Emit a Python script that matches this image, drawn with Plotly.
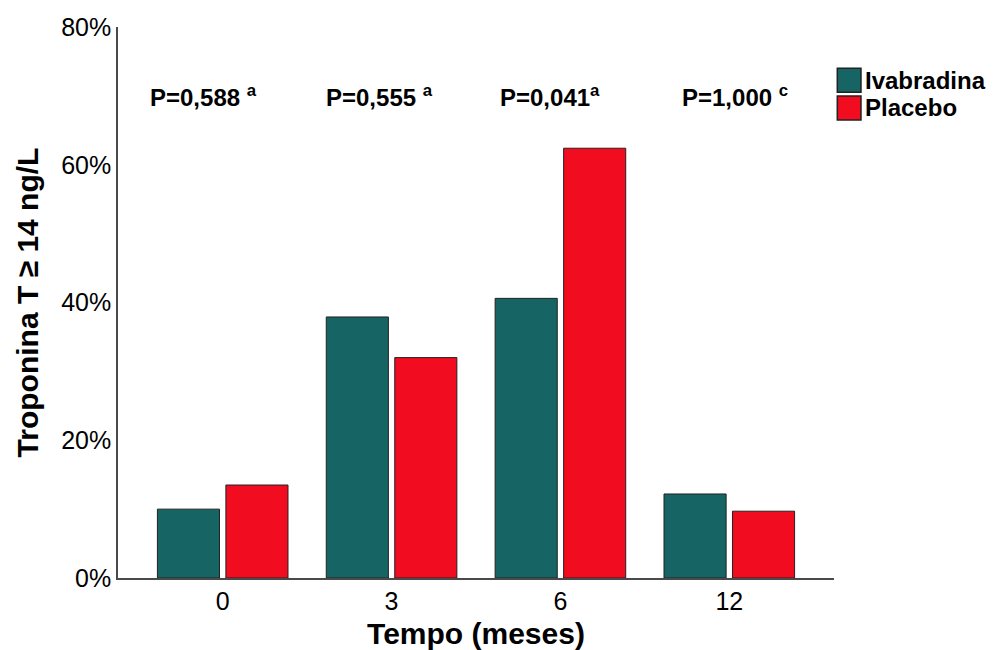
import plotly.graph_objects as go

categories = ["0", "3", "6", "12"]
ivabradina = [10.0, 37.9, 40.6, 12.2]
placebo = [13.5, 32.0, 62.4, 9.7]
p_labels = ["P=0,588 <sup>a</sup>", "P=0,555 <sup>a</sup>", "P=0,041<sup>a</sup>", "P=1,000 <sup>c</sup>"]
y_ticks = [0, 20, 40, 60, 80]
y_ticklabels = ["0%", "20%", "40%", "60%", "80%"]

TEAL = "#166463"
RED = "#F20C1F"
FONT = "Liberation Sans, Arial, sans-serif"

fig = go.Figure()
fig.add_trace(go.Bar(x=categories, y=ivabradina, name="Ivabradina",
                     marker=dict(color=TEAL, line=dict(color="#222222", width=1))))
fig.add_trace(go.Bar(x=categories, y=placebo, name="Placebo",
                     marker=dict(color=RED, line=dict(color="#222222", width=1))))

# P-value annotations (left-anchored, offset from category index)
p_offsets = [-0.441, -0.402, -0.367, -0.290]
for i, (lab, off) in enumerate(zip(p_labels, p_offsets)):
    fig.add_annotation(x=i + off, y=0.875, xref="x", yref="paper", text=lab,
                       showarrow=False, xanchor="left", yanchor="middle",
                       font=dict(family=FONT, size=24, color="black", weight="bold"))

# Manual legend
legend_items = [("Ivabradina", TEAL), ("Placebo", RED)]
sq_top = [0.925, 0.8748]
sq_h = 0.0435
for (name, col), top in zip(legend_items, sq_top):
    fig.add_shape(type="rect", xref="paper", yref="paper",
                  x0=1.0046, x1=1.0377, y0=top - sq_h, y1=top,
                  fillcolor=col, line=dict(color="#222222", width=1.5))
    fig.add_annotation(x=1.0405, y=top - sq_h / 2, xref="paper", yref="paper",
                       text=name, showarrow=False, xanchor="left", yanchor="middle",
                       font=dict(family=FONT, size=24, color="black", weight="bold"))

fig.update_layout(
    width=986, height=642,
    margin=dict(l=110, r=160, t=19, b=72, autoexpand=False),
    paper_bgcolor="white", plot_bgcolor="white",
    barmode="group", bargap=0.189, bargroupgap=0.093,
    showlegend=False,
    font=dict(family=FONT, color="black"),
)
fig.update_xaxes(type="category", range=[-0.62, 3.62],
                 showline=True, linecolor="#4a4a4a", linewidth=1.5,
                 ticks="", showgrid=False, zeroline=False,
                 tickfont=dict(family=FONT, size=25, color="black"),
                 title=dict(text="Tempo (meses)", standoff=10,
                            font=dict(family=FONT, size=30, color="black", weight="bold")))
fig.update_yaxes(range=[0, 80], tickvals=y_ticks, ticktext=y_ticklabels,
                 showline=True, linecolor="#4a4a4a", linewidth=1.5,
                 ticks="", showgrid=False, zeroline=False,
                 tickfont=dict(family=FONT, size=25, color="black"),
                 title=dict(text="Troponina T ≥ 14 ng/L", standoff=14,
                            font=dict(family=FONT, size=30, color="black", weight="bold")))

fig.write_html("out.html")
